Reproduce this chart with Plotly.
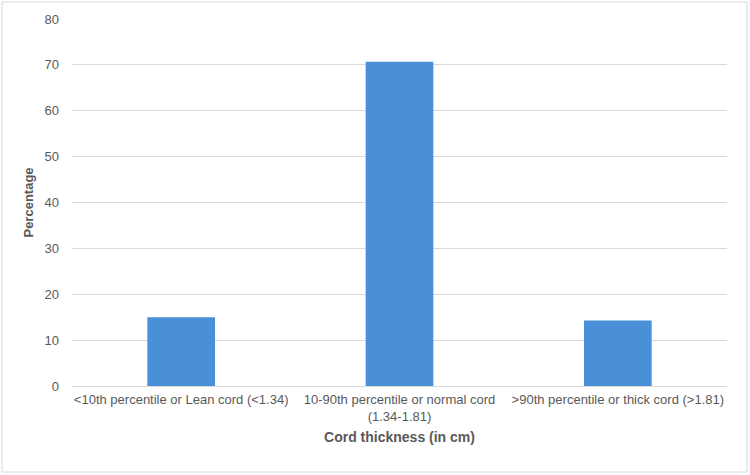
import plotly.graph_objects as go

categories = ["lean", "normal", "thick"]
tick_labels = [
    "<10th percentile or Lean cord (<1.34)",
    "10-90th percentile or normal cord<br>(1.34-1.81)",
    ">90th percentile or thick cord (>1.81)",
]
percentages = [15.0, 70.7, 14.3]
y_ticks = [0, 10, 20, 30, 40, 50, 60, 70, 80]

fig = go.Figure(go.Bar(x=categories, y=percentages, marker=dict(color="#4a90d9", line=dict(width=0))))

W, H = 750, 475
L, R, T, B = 72, 23, 19, 89
pw, ph = W - L - R, H - T - B

def px_x(x):
    return (x - L) / pw

def px_y(y):
    return (H - B - y) / ph

fig.update_layout(
    width=W, height=H,
    margin=dict(l=L, r=R, t=T, b=B),
    paper_bgcolor="white", plot_bgcolor="white",
    font=dict(family="Liberation Sans, Arial, sans-serif", color="#595959", size=13),
    bargap=0.69,
    showlegend=False,
    xaxis=dict(
        tickmode="array", tickvals=categories, ticktext=tick_labels,
        showgrid=False, showline=True, linecolor="#d9d9d9", linewidth=1,
        ticks="", tickfont=dict(size=13, color="#595959"), ticklabelstandoff=1,
        title=dict(text="<b>Cord thickness (in cm)</b>", font=dict(size=14, color="#595959"), standoff=9),
    ),
    yaxis=dict(
        range=[0, 80], tickvals=y_ticks, showgrid=True, gridcolor="#d9d9d9", gridwidth=1,
        zeroline=False, showline=False, ticks="", ticklen=0,
        tickfont=dict(size=13, color="#595959"), ticklabelstandoff=12,
        title=dict(text="<b>Percentage</b>", font=dict(size=13, color="#595959"), standoff=7),
    ),
    shapes=[dict(
        type="rect", xref="paper", yref="paper",
        x0=px_x(2), x1=px_x(747), y0=px_y(472), y1=px_y(2),
        line=dict(color="#d9d9d9", width=1), fillcolor="rgba(0,0,0,0)", layer="below",
    )],
)

fig.write_html("out.html")
